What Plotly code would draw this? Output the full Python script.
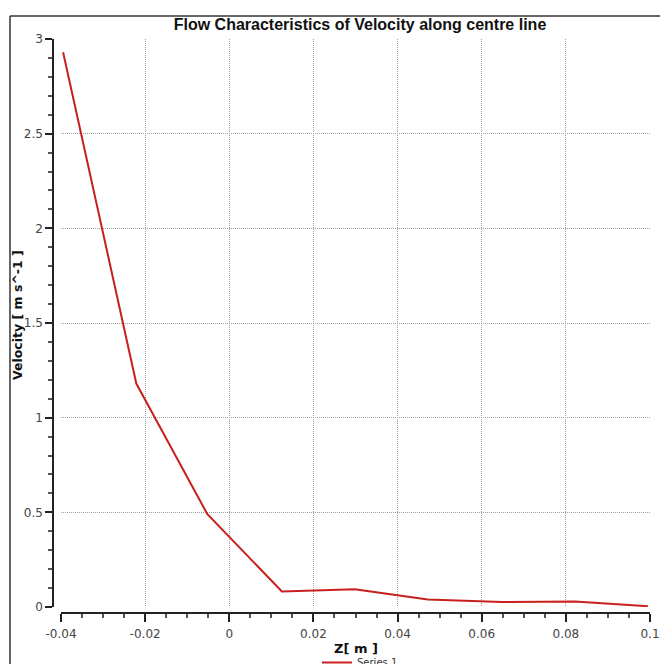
import plotly.graph_objects as go

z_m = [-0.0395, -0.0221, -0.0052, 0.0125, 0.0298, 0.0472, 0.0648, 0.0822, 0.0995]
velocity = [2.93, 1.18, 0.49, 0.082, 0.094, 0.04, 0.026, 0.029, 0.004]
x_ticks = [-0.04, -0.02, 0, 0.02, 0.04, 0.06, 0.08, 0.1]
x_tick_labels = ["-0.04", "-0.02", "0", "0.02", "0.04", "0.06", "0.08", "0.1"]
y_ticks = [0, 0.5, 1, 1.5, 2, 2.5, 3]
y_tick_labels = ["0", "0.5", "1", "1.5", "2", "2.5", "3"]

W, H = 660, 664
L, R, T, B = 53, 10, 39, 51
pw, ph = W - L - R, H - T - B

def px2x(px):
    return (px - L) / pw

def py2y(py):
    return (H - B - py) / ph

fig = go.Figure()
fig.add_trace(go.Scatter(
    x=z_m, y=velocity, mode="lines", name="Series 1",
    line=dict(color="#c8201e", width=2),
))

tickfont = dict(family="DejaVu Sans, Verdana, sans-serif", size=12, color="#444444")
grid = dict(showgrid=True, gridcolor="#a0a0a0", griddash="1px,1px", gridwidth=1)
frame = dict(color="#333333", width=1.5)

fig.update_layout(
    width=W, height=H,
    margin=dict(l=L, r=R, t=T, b=B, autoexpand=False),
    paper_bgcolor="white", plot_bgcolor="white",
    title=dict(
        text="Flow Characteristics of Velocity along centre line",
        x=360 / W, xref="container", xanchor="center",
        y=1 - 24 / H, yref="container", yanchor="middle",
        font=dict(family="Liberation Sans, Arial, sans-serif", size=16, color="#111111", weight="bold"),
    ),
    xaxis=dict(
        domain=[px2x(61), 1.0], range=[-0.04, 0.1], anchor="free", position=0,
        tickvals=x_ticks, ticktext=x_tick_labels, tickfont=tickfont,
        ticks="outside", ticklen=8, tickwidth=1.5, tickcolor="#222222",
        showline=True, linecolor="#222222", linewidth=1.5,
        ticklabelstandoff=2,
        zeroline=False, **grid,
        minor=dict(dtick=0.005, tick0=0, ticks="outside", ticklen=4, tickcolor="#555555", showgrid=False),
    ),
    yaxis=dict(
        domain=[py2y(607), 1.0], range=[0, 3], anchor="free", position=0,
        tickvals=y_ticks, ticktext=y_tick_labels, tickfont=tickfont,
        ticks="outside", ticklen=7, tickwidth=1.5, tickcolor="#222222",
        showline=True, linecolor="#222222", linewidth=1.5,
        zeroline=False, **grid,
        minor=dict(dtick=0.1, tick0=0, ticks="outside", ticklen=4, tickcolor="#555555", showgrid=False),
    ),
    showlegend=True,
    legend=dict(
        orientation="h", x=px2x(360), xanchor="center", y=py2y(648), yanchor="top",
        font=dict(family="DejaVu Sans, sans-serif", size=10, color="#333333"),
        itemwidth=30, bgcolor="rgba(0,0,0,0)",
    ),
    shapes=[
        dict(type="line", xref="paper", yref="paper",
             x0=px2x(10), x1=px2x(670), y0=py2y(16), y1=py2y(16), line=frame),
        dict(type="line", xref="paper", yref="paper",
             x0=px2x(10), x1=px2x(10), y0=py2y(16), y1=py2y(680), line=frame),
    ],
    annotations=[
        dict(text="Z[ m ]", xref="paper", yref="paper", x=px2x(356), y=py2y(648),
             xanchor="center", yanchor="middle", showarrow=False,
             font=dict(family="DejaVu Sans, sans-serif", size=13, color="#111111", weight="bold")),
        dict(text="Velocity [ m s^-1 ]", xref="paper", yref="paper", x=px2x(17), y=py2y(315),
             xanchor="center", yanchor="middle", showarrow=False, textangle=-90,
             font=dict(family="DejaVu Sans, sans-serif", size=12.5, color="#111111", weight="bold")),
    ],
)

fig.write_html(
    "out.html",
    config={"displayModeBar": False},
    post_script="document.body.style.margin='0';document.body.style.overflow='hidden';",
)
